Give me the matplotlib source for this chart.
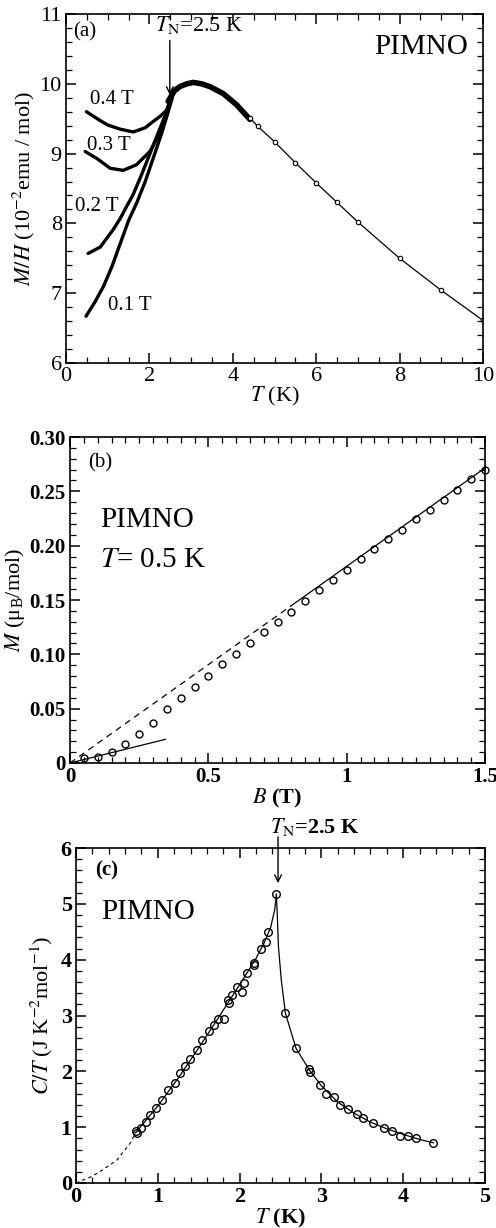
import matplotlib
matplotlib.use("Agg")
import matplotlib.pyplot as plt
from matplotlib.ticker import MultipleLocator, FixedLocator, FixedFormatter

plt.rcParams['font.family'] = ['Liberation Serif', 'DejaVu Serif']
plt.rcParams['mathtext.fontset'] = 'stix'

# ---------------- Panel (a): M/H vs T ----------------
a_T_04 = [0.49, 0.8, 1.0, 1.3, 1.61, 1.9, 2.09, 2.25, 2.41, 2.5]
a_M_04 = [9.60, 9.48, 9.41, 9.35, 9.31, 9.37, 9.46, 9.53, 9.62, 9.75]
a_T_03 = [0.46, 0.74, 1.06, 1.37, 1.69, 2.01, 2.25, 2.41, 2.5]
a_M_03 = [9.03, 8.93, 8.79, 8.76, 8.84, 9.03, 9.29, 9.53, 9.75]
a_T_02 = [0.53, 0.82, 1.13, 1.30, 1.45, 1.60, 1.80, 2.00, 2.20, 2.40, 2.50]
a_M_02 = [7.57, 7.66, 7.91, 8.07, 8.24, 8.40, 8.68, 8.98, 9.28, 9.58, 9.78]
a_T_01 = [0.48, 0.70, 0.90, 1.10, 1.30, 1.50, 1.70, 1.90, 2.10, 2.30, 2.45, 2.55]
a_M_01 = [6.67, 6.88, 7.10, 7.38, 7.71, 8.04, 8.30, 8.60, 8.95, 9.30, 9.60, 9.80]
a_T_peak = [2.45, 2.6, 2.73, 2.9, 3.05, 3.25, 3.45, 3.77, 4.09, 4.41]
a_M_peak = [9.75, 9.90, 9.96, 10.00, 10.02, 10.00, 9.96, 9.86, 9.70, 9.49]
a_T_high = [4.41, 4.6, 5.0, 5.5, 6.0, 6.5, 7.0, 8.0, 9.0, 10.0]
a_M_high = [9.51, 9.39, 9.17, 8.87, 8.58, 8.30, 8.02, 7.50, 7.04, 6.61]
a_field_labels = ['0.4 T', '0.3 T', '0.2 T', '0.1 T']
a_label_x = [0.58, 0.50, 0.22, 1.01]
a_label_y = [9.77, 9.12, 8.24, 6.82]

# ---------------- Panel (b): M vs B ----------------
b_B = [0.05, 0.10, 0.15, 0.20, 0.25, 0.30, 0.35, 0.40, 0.45, 0.50, 0.55, 0.60,
       0.65, 0.70, 0.75, 0.80, 0.85, 0.90, 0.95, 1.00, 1.05, 1.10, 1.15, 1.20,
       1.25, 1.30, 1.35, 1.40, 1.45, 1.50]
b_M = [0.0043, 0.0058, 0.0098, 0.0172, 0.0264, 0.0366, 0.0494, 0.0601, 0.0703,
       0.0801, 0.0909, 0.1004, 0.1102, 0.1203, 0.1296, 0.1393, 0.1495, 0.1593,
       0.1680, 0.1779, 0.1878, 0.1970, 0.2062, 0.2148, 0.2246, 0.2332, 0.2424,
       0.2510, 0.2614, 0.2700]
b_fit_solid_B = [0.80, 1.50]
b_fit_solid_M = [0.1448, 0.2715]
b_fit_dash_B = [0.0, 0.80]
b_fit_dash_M = [0.0, 0.1448]
b_low_B = [0.0, 0.345]
b_low_M = [0.0, 0.0218]
b_xticks = [0, 0.5, 1.0, 1.5]
b_xticklabels = ['0', '0.5', '1', '1.5']
b_yticks = [0, 0.05, 0.10, 0.15, 0.20, 0.25, 0.30]
b_yticklabels = ['0', '0.05', '0.10', '0.15', '0.20', '0.25', '0.30']

# ---------------- Panel (c): C/T vs T ----------------
c_T = [0.733, 0.74, 0.79, 0.85, 0.905, 0.978, 1.047, 1.128, 1.21, 1.27, 1.33,
       1.39, 1.475, 1.54, 1.63, 1.69, 1.74, 1.81, 1.87, 1.855, 1.91, 1.97, 2.03,
       2.05, 2.09, 2.17, 2.18, 2.26, 2.32, 2.35, 2.45,
       2.56, 2.69, 2.85, 2.86, 2.98, 3.06, 3.15, 3.23, 3.33, 3.43, 3.51, 3.63,
       3.76, 3.86, 3.96, 4.06, 4.16, 4.37]
c_CT = [0.926, 0.90, 0.99, 1.09, 1.21, 1.34, 1.49, 1.66, 1.79, 1.97, 2.10,
        2.22, 2.38, 2.56, 2.72, 2.83, 2.93, 2.93, 3.23, 3.27, 3.36, 3.51, 3.42,
        3.59, 3.76, 3.90, 3.94, 4.20, 4.31, 4.50, 5.17,
        3.04, 2.41, 2.05, 1.99, 1.75, 1.60, 1.54, 1.39, 1.33, 1.23, 1.17, 1.08,
        0.99, 0.93, 0.85, 0.84, 0.80, 0.72]
c_fitL_T = [0.73, 1.0, 1.25, 1.5, 1.75, 2.0, 2.2, 2.3, 2.38, 2.43, 2.45]
c_fitL_CT = [0.90, 1.38, 1.88, 2.42, 2.98, 3.55, 4.02, 4.30, 4.58, 4.90, 5.17]
c_fitR_T = [2.45, 2.46, 2.475, 2.51, 2.56, 2.69, 2.85, 3.0, 3.2, 3.4, 3.6, 3.8,
            4.0, 4.2, 4.37]
c_fitR_CT = [5.17, 4.83, 4.23, 3.63, 3.04, 2.41, 2.03, 1.74, 1.45, 1.25, 1.09,
             0.97, 0.87, 0.78, 0.72]
c_dash_T = [0.0, 0.18, 0.29, 0.50, 0.66, 0.73]
c_dash_CT = [0.0, 0.11, 0.20, 0.41, 0.71, 0.90]

W, H = 496, 1228
fig = plt.figure(figsize=(W / 100, H / 100), dpi=100)


def px_axes(l, t, r, b):
    return fig.add_axes([l / W, 1 - b / H, (r - l) / W, (b - t) / H])


def style(ax, fs, bold):
    ax.tick_params(which='both', direction='in', top=True, right=True)
    ax.tick_params(which='major', length=7, width=1.1, labelsize=fs, pad=3)
    ax.tick_params(which='minor', length=4, width=0.9)
    for s in ax.spines.values():
        s.set_linewidth(1.2)
    if bold:
        for lab in ax.get_xticklabels() + ax.get_yticklabels():
            lab.set_fontweight('bold')


# ---- (a)
ax = px_axes(66, 14, 483, 363)
ax.set_xlim(0, 10)
ax.set_ylim(6, 11)
ax.xaxis.set_major_locator(MultipleLocator(2))
ax.xaxis.set_minor_locator(MultipleLocator(0.5))
ax.yaxis.set_major_locator(MultipleLocator(1))
ax.yaxis.set_minor_locator(MultipleLocator(0.2))
for tt, mm in [(a_T_04, a_M_04), (a_T_03, a_M_03), (a_T_02, a_M_02), (a_T_01, a_M_01)]:
    ax.plot(tt, mm, '-', color='black', lw=2.4, solid_capstyle='round')
ax.plot(a_T_peak, a_M_peak, '-', color='black', lw=4.0, solid_capstyle='round')
ax.plot(a_T_high, a_M_high, '-o', color='black', lw=0.9, ms=3.2,
        mfc='white', mec='black', mew=0.8)
for lab, x, y in zip(a_field_labels, a_label_x, a_label_y):
    ax.text(x, y, lab, fontsize=15, va='center', ha='left')
ax.text(0.17, 10.75, '(a)', fontsize=15, va='center', ha='left')
ax.text(9.64, 10.53, 'PIMNO', fontsize=21, va='center', ha='right')
ax.text(2.13, 10.84, r'$\mathit{T}_{\rm N}$=2.5 K', fontsize=16, va='center', ha='left')
ax.annotate('', xy=(2.49, 9.84), xytext=(2.49, 10.62),
            arrowprops=dict(arrowstyle='->', lw=1.0, color='black',
                            mutation_scale=12, shrinkA=0, shrinkB=0))
ax.set_xlabel(r'$\mathit{T}$ (K)', fontsize=16, labelpad=-1)
ax.set_ylabel(r'$\mathit{M/H}$ (10$^{-2}$emu / mol)', fontsize=16, labelpad=2)
style(ax, 16, False)

# ---- (b)
ax = px_axes(70, 437, 485, 763)
ax.set_xlim(0, 1.5)
ax.set_ylim(0, 0.30)
ax.xaxis.set_major_locator(FixedLocator(b_xticks))
ax.xaxis.set_major_formatter(FixedFormatter(b_xticklabels))
ax.xaxis.set_minor_locator(MultipleLocator(0.05))
ax.yaxis.set_major_locator(FixedLocator(b_yticks))
ax.yaxis.set_major_formatter(FixedFormatter(b_yticklabels))
ax.yaxis.set_minor_locator(MultipleLocator(0.01))
ax.plot(b_fit_dash_B, b_fit_dash_M, '--', color='black', lw=0.9, dashes=(5, 4))
ax.plot(b_fit_solid_B, b_fit_solid_M, '-', color='black', lw=0.9)
ax.plot(b_low_B, b_low_M, '-', color='black', lw=0.9)
ax.plot(b_B, b_M, 'o', ms=5.0, mfc='none', mec='black', mew=1.0, clip_on=False)
ax.text(0.065, 0.276, '(b)', fontsize=15, va='center', ha='left')
ax.text(0.108, 0.224, 'PIMNO', fontsize=21, va='center', ha='left')
ax.text(0.108, 0.187, r'$\mathit{T}$= 0.5 K', fontsize=21, va='center', ha='left')
ax.set_xlabel(r'$\mathit{B}$ (T)', fontsize=16, labelpad=0, fontweight='bold')
ax.set_ylabel(r'$\mathit{M}$ ($\mathregular{\mu_B}$/mol)', fontsize=16, labelpad=2)
style(ax, 15, True)

# ---- (c)
ax = px_axes(76, 848, 485, 1183)
ax.set_xlim(0, 5)
ax.set_ylim(0, 6)
ax.xaxis.set_major_locator(MultipleLocator(1))
ax.xaxis.set_minor_locator(MultipleLocator(0.2))
ax.yaxis.set_major_locator(MultipleLocator(1))
ax.yaxis.set_minor_locator(MultipleLocator(0.2))
ax.plot(c_dash_T, c_dash_CT, '--', color='black', lw=0.8, dashes=(3, 3))
ax.plot(c_fitL_T, c_fitL_CT, '-', color='black', lw=0.9)
ax.plot(c_fitR_T, c_fitR_CT, '-', color='black', lw=0.9)
ax.plot(c_T, c_CT, 'o', ms=5.5, mfc='none', mec='black', mew=1.0)
ax.text(0.23, 5.6, '(c)', fontsize=15, va='center', ha='left', fontweight='bold')
ax.text(0.31, 4.86, 'PIMNO', fontsize=21, va='center', ha='left')
ax.text(2.37, 6.38, r'$\mathit{T}_{\rm N}$=2.5 K', fontsize=16, va='center', ha='left',
        fontweight='bold')
ax.annotate('', xy=(2.47, 5.37), xytext=(2.47, 6.2),
            arrowprops=dict(arrowstyle='->', lw=1.0, color='black',
                            mutation_scale=12, shrinkA=0, shrinkB=0),
            annotation_clip=False)
ax.set_xlabel(r'$\mathit{T}$ (K)', fontsize=16, labelpad=0, fontweight='bold')
ax.set_ylabel(r'$\mathit{C/T}$ (J K$^{-2}$mol$^{-1}$)', fontsize=16, labelpad=4)
style(ax, 16, True)

fig.savefig('out.png', dpi=100)
